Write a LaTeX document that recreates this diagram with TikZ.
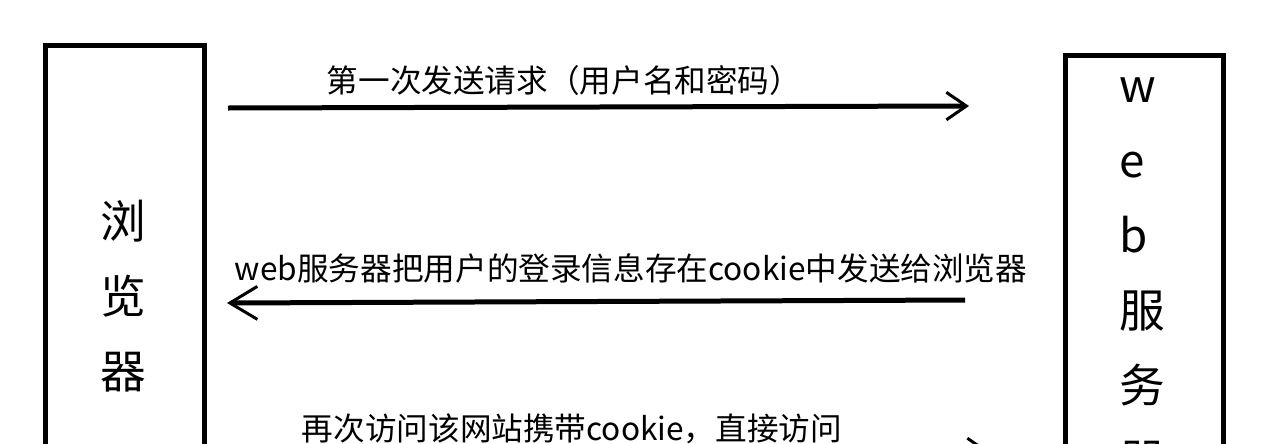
\documentclass[tikz,border=0pt]{standalone}
\usepackage{fontspec}
\setmainfont{Noto Sans CJK SC}
\usetikzlibrary{arrows.meta,positioning}

\begin{document}
\begin{tikzpicture}[x=0.02cm,y=-0.02cm]
\tikzstyle{box}=[draw, line width=0.1cm, minimum width=3.18cm, inner sep=0pt, outer sep=0pt, anchor=north west]
\tikzstyle{letter}=[font=\fontsize{26}{26}\selectfont, inner sep=0pt, anchor=base west]
\tikzstyle{msg}=[font=\fontsize{18}{18}\selectfont, inner sep=0pt, anchor=base]
\tikzstyle{msgline}=[line width=0.1cm]
\useasboundingbox (0,0) rectangle (1280,443);
\fill[white] (0,0) rectangle (1280,443);
\clip (0,0) rectangle (1280,443);
\node [box, minimum height=10.3cm] (BROWSER) at (45.5,45) {};
\node [box, minimum width=3.16cm, minimum height=10.1cm] (SERVER) at (1065.5,55) {};
\foreach \c [count=\i from 0] in {浏,览,器}
  \node [letter] (B\i) at (100,238+75*\i) {\c};
\foreach \c [count=\i from 0] in {w,e,b,服,务,器}
  \node [letter] (S\i) at (1119,102+75*\i) {\c};
\coordinate (REQ-from) at (228,108);
\coordinate (REQ-to) at (969,106);
\coordinate (RESP-from) at (965,300);
\coordinate (RESP-to) at (227,303);
\coordinate (AGAIN-from) at (228,452);
\coordinate (AGAIN-to) at (990,452);
\node [msg] (REQ) at (564,92) {第一次发送请求（用户名和密码）};
\node [msg] (RESP) at (631,280) {web服务器把用户的登录信息存在cookie中发送给浏览器};
\node [msg] (AGAIN) at (572,440) {再次访问该网站携带cookie，直接访问};
\draw [msgline, -{Straight Barb[length=0.4cm, width=0.55cm, line width=1.7pt]}] (REQ-from) -- (REQ-to);
\draw [msgline, -{Straight Barb[length=0.55cm, width=0.66cm, line width=1.7pt]}] (RESP-from) -- (RESP-to);
\draw [msgline, -{Straight Barb[length=0.4cm, width=0.55cm, line width=1.7pt]}] (AGAIN-from) -- (AGAIN-to);
\end{tikzpicture}
\end{document}
